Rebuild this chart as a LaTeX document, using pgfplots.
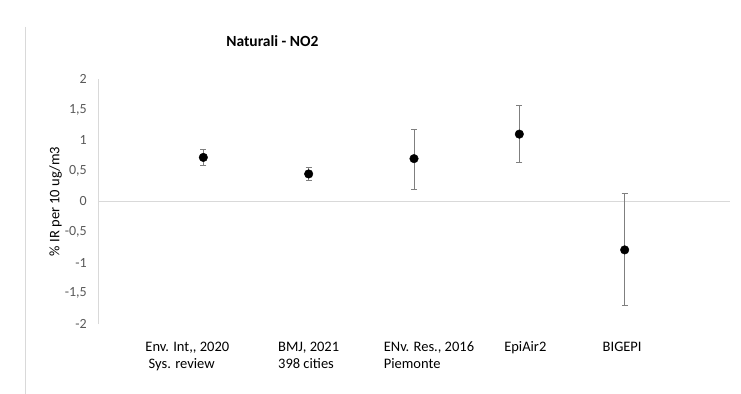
\documentclass[border=0pt]{standalone}
\usepackage{pgfplots}
\pgfplotsset{compat=1.18}
\usepackage{pgfplotstable}
\usepackage{fontspec}
\setmainfont{Carlito}
\definecolor{tickgray}{HTML}{595959}
\definecolor{linegray}{HTML}{D9D9D9}
\definecolor{errgray}{HTML}{7F7F7F}

\pgfplotstableread{
x   y      ep     em
1   0.72   0.13   0.13
2   0.45   0.11   0.10
3   0.70   0.475  0.51
4   1.10   0.47   0.47
5   -0.79  0.92   0.91
}\datatable

\newcommand{\lab}[2]{\begin{tabular}{@{}l@{}}#1\\#2\end{tabular}}

\begin{document}
\begin{tikzpicture}
\begin{axis}[
  at={(98bp,70bp)}, anchor=south west,
  scale only axis,
  width=632bp, height=245bp,
  xmin=0, xmax=6, ymin=-2, ymax=2,
  axis x line*=bottom,
  axis y line*=left,
  x axis line style={draw=none},
  y axis line style={linegray, line width=0.9pt, -},
  xtick={1,2,3,4,5},
  xticklabels={
    {\lab{Env. Int,{},\ 2020}{\ Sys. review}\hspace*{32bp}},
    {\lab{BMJ, 2021}{398 cities}},
    {\hspace*{30bp}\lab{ENv. Res., 2016}{Piemonte}},
    {\hspace*{12bp}\lab{EpiAir2}{\strut}},
    {\lab{BIGEPI}{\strut}\hspace*{5bp}}},
  xticklabel style={anchor=north, inner sep=0pt, yshift=-15bp, text=black,
    font=\fontsize{14.5bp}{17bp}\selectfont},
  ytick={-2,-1.5,...,2},
  yticklabels={{-2},{-1,5},{-1},{-0,5},{0},{0,5},{1},{1,5},{2}},
  major tick length=0pt,
  yticklabel style={font=\fontsize{14bp}{16bp}\selectfont, text=tickgray, inner sep=0pt, xshift=-11bp},
  extra y ticks={0},
  extra y tick labels={},
  extra y tick style={grid=major, major grid style={linegray, line width=0.9pt}},
  ylabel={\% IR per 10 ug/m3},
  ylabel style={at={(axis description cs:0,0.5)}, anchor=center, yshift=42.5bp, font=\fontsize{14.5bp}{16bp}\selectfont},
  title={\textbf{Naturali - NO2}},
  title style={at={(axis description cs:0.276,1.107)}, anchor=base, font=\fontsize{15.5bp}{18bp}\selectfont},
  clip=false,
]
\addplot[only marks, mark=*, mark size=4.3bp, mark options={black, fill=black},
  error bars/.cd, y dir=both, y explicit,
  error bar style={errgray, line width=0.9pt},
  error mark options={errgray, line width=0.9pt, rotate=90, mark size=3bp}]
  table[x=x, y=y, y error plus=ep, y error minus=em] {\datatable};
\end{axis}
\draw[linegray, line width=0.9pt] (25bp,367bp) -- (25bp,0bp);
\pgfresetboundingbox
\path (0,0) rectangle (741bp,394bp);
\end{tikzpicture}
\end{document}
